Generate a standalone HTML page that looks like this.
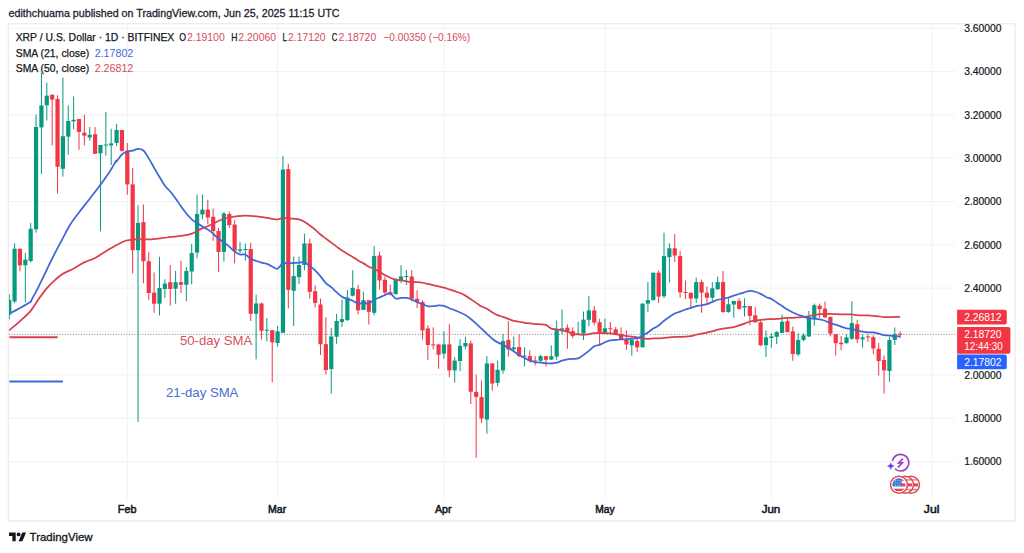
<!DOCTYPE html><html><head><meta charset="utf-8"><title>XRP / U.S. Dollar chart</title><style>
html,body{margin:0;padding:0;background:#fff;}
body{width:1024px;height:553px;overflow:hidden;position:relative;font-family:"Liberation Sans",Arial,sans-serif;}
svg{position:absolute;left:0;top:0;}
.t{font-family:"Liberation Sans",Arial,sans-serif;}
</style></head><body>
<svg width="1024" height="553" viewBox="0 0 1024 553">
<rect x="0" y="0" width="1024" height="553" fill="#ffffff"/>
<text class="t" x="8.6" y="16.8" font-size="11.3" fill="#1e222d" stroke="#1e222d" stroke-width="0.3" textLength="330.8" lengthAdjust="spacingAndGlyphs">edithchuama published on TradingView.com, Jun 25, 2025 11:15 UTC</text>
<rect x="8.3" y="23.8" width="1006.8" height="497.2" fill="none" stroke="#e6e6e8" stroke-width="1"/>
<defs><clipPath id="pane"><rect x="9" y="25" width="946" height="474"/></clipPath></defs>
<g stroke="#f1f2f4" stroke-width="1"><line x1="9" y1="28.1" x2="955" y2="28.1"/><line x1="9" y1="71.4" x2="955" y2="71.4"/><line x1="9" y1="114.8" x2="955" y2="114.8"/><line x1="9" y1="158.1" x2="955" y2="158.1"/><line x1="9" y1="201.5" x2="955" y2="201.5"/><line x1="9" y1="244.8" x2="955" y2="244.8"/><line x1="9" y1="288.1" x2="955" y2="288.1"/><line x1="9" y1="331.5" x2="955" y2="331.5"/><line x1="9" y1="374.8" x2="955" y2="374.8"/><line x1="9" y1="418.2" x2="955" y2="418.2"/><line x1="9" y1="461.5" x2="955" y2="461.5"/><line x1="127.3" y1="25" x2="127.3" y2="499"/><line x1="277.6" y1="25" x2="277.6" y2="499"/><line x1="444.0" y1="25" x2="444.0" y2="499"/><line x1="605.0" y1="25" x2="605.0" y2="499"/><line x1="771.3" y1="25" x2="771.3" y2="499"/><line x1="932.3" y1="25" x2="932.3" y2="499"/></g>
<line x1="9.4" y1="337.3" x2="57.6" y2="337.3" stroke="#d6404f" stroke-width="2"/>
<line x1="9.4" y1="381.4" x2="62.9" y2="381.4" stroke="#4166d6" stroke-width="2"/>
<text class="t" x="179.9" y="345.3" font-size="12.6" fill="#d9515f" textLength="72.4" lengthAdjust="spacingAndGlyphs">50-day SMA</text>
<text class="t" x="166.0" y="396.7" font-size="12.6" fill="#4a6cd4" textLength="72.4" lengthAdjust="spacingAndGlyphs">21-day SMA</text>
<line x1="9" y1="334.3" x2="955" y2="334.3" stroke="#80838c" stroke-width="1" stroke-dasharray="1,1.67"/>
<g clip-path="url(#pane)">
<rect x="8.73" y="294.2" width="1" height="25.1" fill="#089981"/><rect x="7.13" y="299.9" width="4.2" height="14.7" fill="#089981"/><rect x="14.09" y="243.3" width="1" height="59.9" fill="#089981"/><rect x="12.49" y="248.7" width="4.2" height="52.8" fill="#089981"/><rect x="19.46" y="248.7" width="1" height="22.6" fill="#f23645"/><rect x="17.86" y="248.7" width="4.2" height="16.6" fill="#f23645"/><rect x="24.83" y="252.8" width="1" height="49.6" fill="#089981"/><rect x="23.23" y="259.6" width="4.2" height="5.7" fill="#089981"/><rect x="30.19" y="222.9" width="1" height="39.6" fill="#089981"/><rect x="28.59" y="228.8" width="4.2" height="32.2" fill="#089981"/><rect x="35.56" y="114.7" width="1" height="118.0" fill="#089981"/><rect x="33.96" y="127.0" width="4.2" height="102.3" fill="#089981"/><rect x="40.93" y="72.7" width="1" height="101.3" fill="#089981"/><rect x="39.33" y="105.5" width="4.2" height="21.9" fill="#089981"/><rect x="46.30" y="82.5" width="1" height="38.0" fill="#089981"/><rect x="44.70" y="95.7" width="4.2" height="9.6" fill="#089981"/><rect x="51.66" y="94.2" width="1" height="51.2" fill="#f23645"/><rect x="50.06" y="94.8" width="4.2" height="4.8" fill="#f23645"/><rect x="57.03" y="95.2" width="1" height="98.4" fill="#f23645"/><rect x="55.43" y="99.0" width="4.2" height="67.8" fill="#f23645"/><rect x="62.40" y="77.6" width="1" height="99.0" fill="#089981"/><rect x="60.80" y="136.2" width="4.2" height="32.6" fill="#089981"/><rect x="67.76" y="105.3" width="1" height="49.4" fill="#089981"/><rect x="66.16" y="121.0" width="4.2" height="15.6" fill="#089981"/><rect x="73.13" y="96.5" width="1" height="32.8" fill="#089981"/><rect x="71.53" y="119.8" width="4.2" height="1.5" fill="#089981"/><rect x="78.50" y="119.0" width="1" height="30.8" fill="#f23645"/><rect x="76.90" y="119.0" width="4.2" height="12.9" fill="#f23645"/><rect x="83.86" y="114.7" width="1" height="30.7" fill="#f23645"/><rect x="82.26" y="132.7" width="4.2" height="2.9" fill="#f23645"/><rect x="89.23" y="127.0" width="1" height="13.7" fill="#089981"/><rect x="87.63" y="134.8" width="4.2" height="2.7" fill="#089981"/><rect x="94.60" y="127.0" width="1" height="26.8" fill="#f23645"/><rect x="93.00" y="134.2" width="4.2" height="19.6" fill="#f23645"/><rect x="99.97" y="145.0" width="1" height="86.3" fill="#089981"/><rect x="98.37" y="145.0" width="4.2" height="8.4" fill="#089981"/><rect x="105.33" y="111.8" width="1" height="43.9" fill="#089981"/><rect x="103.73" y="144.5" width="4.2" height="1.0" fill="#089981"/><rect x="110.70" y="128.8" width="1" height="36.2" fill="#089981"/><rect x="109.10" y="143.4" width="4.2" height="2.0" fill="#089981"/><rect x="116.07" y="124.0" width="1" height="22.0" fill="#089981"/><rect x="114.47" y="130.0" width="4.2" height="13.0" fill="#089981"/><rect x="121.43" y="130.0" width="1" height="21.8" fill="#f23645"/><rect x="119.83" y="130.0" width="4.2" height="20.8" fill="#f23645"/><rect x="126.80" y="143.0" width="1" height="51.8" fill="#f23645"/><rect x="125.20" y="150.8" width="4.2" height="33.6" fill="#f23645"/><rect x="132.17" y="167.8" width="1" height="105.6" fill="#f23645"/><rect x="130.57" y="184.4" width="4.2" height="65.8" fill="#f23645"/><rect x="137.53" y="205.3" width="1" height="216.7" fill="#089981"/><rect x="135.93" y="222.9" width="4.2" height="27.3" fill="#089981"/><rect x="142.90" y="204.5" width="1" height="78.7" fill="#f23645"/><rect x="141.30" y="222.1" width="4.2" height="39.1" fill="#f23645"/><rect x="148.27" y="251.8" width="1" height="48.0" fill="#f23645"/><rect x="146.67" y="261.2" width="4.2" height="31.8" fill="#f23645"/><rect x="153.63" y="272.5" width="1" height="40.4" fill="#f23645"/><rect x="152.03" y="292.6" width="4.2" height="11.1" fill="#f23645"/><rect x="159.00" y="256.8" width="1" height="58.6" fill="#089981"/><rect x="157.40" y="288.0" width="4.2" height="15.7" fill="#089981"/><rect x="164.37" y="279.3" width="1" height="18.6" fill="#089981"/><rect x="162.77" y="283.6" width="4.2" height="5.4" fill="#089981"/><rect x="169.74" y="265.2" width="1" height="40.5" fill="#f23645"/><rect x="168.14" y="282.2" width="4.2" height="6.8" fill="#f23645"/><rect x="175.10" y="271.0" width="1" height="32.7" fill="#089981"/><rect x="173.50" y="282.2" width="4.2" height="6.5" fill="#089981"/><rect x="180.47" y="260.7" width="1" height="32.3" fill="#f23645"/><rect x="178.87" y="282.2" width="4.2" height="2.6" fill="#f23645"/><rect x="185.84" y="267.2" width="1" height="34.0" fill="#089981"/><rect x="184.24" y="271.0" width="4.2" height="13.8" fill="#089981"/><rect x="191.20" y="243.8" width="1" height="40.4" fill="#089981"/><rect x="189.60" y="253.0" width="4.2" height="18.5" fill="#089981"/><rect x="196.57" y="194.5" width="1" height="63.7" fill="#089981"/><rect x="194.97" y="214.0" width="4.2" height="38.6" fill="#089981"/><rect x="201.94" y="194.5" width="1" height="24.8" fill="#089981"/><rect x="200.34" y="209.6" width="4.2" height="4.9" fill="#089981"/><rect x="207.31" y="199.8" width="1" height="24.4" fill="#f23645"/><rect x="205.71" y="209.6" width="4.2" height="7.8" fill="#f23645"/><rect x="212.67" y="208.6" width="1" height="32.2" fill="#f23645"/><rect x="211.07" y="216.8" width="4.2" height="14.2" fill="#f23645"/><rect x="218.04" y="228.1" width="1" height="44.1" fill="#f23645"/><rect x="216.44" y="231.0" width="4.2" height="20.9" fill="#f23645"/><rect x="223.41" y="212.1" width="1" height="49.4" fill="#089981"/><rect x="221.81" y="213.5" width="4.2" height="38.4" fill="#089981"/><rect x="228.77" y="211.5" width="1" height="16.6" fill="#f23645"/><rect x="227.17" y="214.0" width="4.2" height="11.2" fill="#f23645"/><rect x="234.14" y="220.3" width="1" height="43.1" fill="#f23645"/><rect x="232.54" y="224.6" width="4.2" height="26.1" fill="#f23645"/><rect x="239.51" y="241.8" width="1" height="11.2" fill="#089981"/><rect x="237.91" y="249.4" width="4.2" height="1.5" fill="#089981"/><rect x="244.87" y="243.6" width="1" height="16.9" fill="#089981"/><rect x="243.27" y="249.0" width="4.2" height="1.0" fill="#089981"/><rect x="250.24" y="242.8" width="1" height="78.2" fill="#f23645"/><rect x="248.64" y="249.0" width="4.2" height="64.8" fill="#f23645"/><rect x="255.61" y="294.7" width="1" height="64.6" fill="#089981"/><rect x="254.01" y="303.5" width="4.2" height="10.3" fill="#089981"/><rect x="260.98" y="302.5" width="1" height="37.1" fill="#f23645"/><rect x="259.38" y="303.5" width="4.2" height="27.3" fill="#f23645"/><rect x="266.34" y="318.0" width="1" height="23.4" fill="#089981"/><rect x="264.74" y="329.7" width="4.2" height="1.0" fill="#089981"/><rect x="271.71" y="330.2" width="1" height="52.1" fill="#f23645"/><rect x="270.11" y="330.2" width="4.2" height="12.1" fill="#f23645"/><rect x="277.08" y="326.0" width="1" height="20.6" fill="#089981"/><rect x="275.48" y="331.4" width="4.2" height="11.6" fill="#089981"/><rect x="282.44" y="155.9" width="1" height="177.1" fill="#089981"/><rect x="280.84" y="169.5" width="4.2" height="163.3" fill="#089981"/><rect x="287.81" y="163.7" width="1" height="144.7" fill="#f23645"/><rect x="286.21" y="169.1" width="4.2" height="120.7" fill="#f23645"/><rect x="293.18" y="256.6" width="1" height="69.3" fill="#089981"/><rect x="291.58" y="276.1" width="4.2" height="14.7" fill="#089981"/><rect x="298.54" y="256.6" width="1" height="27.4" fill="#089981"/><rect x="296.94" y="265.0" width="4.2" height="12.1" fill="#089981"/><rect x="303.91" y="233.6" width="1" height="36.7" fill="#089981"/><rect x="302.31" y="243.4" width="4.2" height="21.6" fill="#089981"/><rect x="309.28" y="238.9" width="1" height="59.7" fill="#f23645"/><rect x="307.68" y="243.4" width="4.2" height="48.4" fill="#f23645"/><rect x="314.64" y="285.3" width="1" height="22.1" fill="#f23645"/><rect x="313.04" y="291.2" width="4.2" height="11.7" fill="#f23645"/><rect x="320.01" y="298.6" width="1" height="56.4" fill="#f23645"/><rect x="318.41" y="304.5" width="4.2" height="39.7" fill="#f23645"/><rect x="325.38" y="317.1" width="1" height="57.4" fill="#f23645"/><rect x="323.78" y="344.2" width="4.2" height="25.8" fill="#f23645"/><rect x="330.75" y="327.9" width="1" height="65.6" fill="#089981"/><rect x="329.15" y="336.5" width="4.2" height="32.5" fill="#089981"/><rect x="336.11" y="313.8" width="1" height="30.0" fill="#089981"/><rect x="334.51" y="321.0" width="4.2" height="15.7" fill="#089981"/><rect x="341.48" y="299.6" width="1" height="27.3" fill="#089981"/><rect x="339.88" y="319.1" width="4.2" height="2.9" fill="#089981"/><rect x="346.85" y="289.8" width="1" height="31.2" fill="#089981"/><rect x="345.25" y="297.6" width="4.2" height="22.5" fill="#089981"/><rect x="352.21" y="270.3" width="1" height="26.3" fill="#089981"/><rect x="350.61" y="287.9" width="4.2" height="7.8" fill="#089981"/><rect x="357.58" y="284.9" width="1" height="29.3" fill="#f23645"/><rect x="355.98" y="289.2" width="4.2" height="21.1" fill="#f23645"/><rect x="362.95" y="291.8" width="1" height="18.2" fill="#089981"/><rect x="361.35" y="300.2" width="4.2" height="9.7" fill="#089981"/><rect x="368.31" y="300.2" width="1" height="24.3" fill="#f23645"/><rect x="366.71" y="300.2" width="4.2" height="11.6" fill="#f23645"/><rect x="373.68" y="246.1" width="1" height="69.2" fill="#089981"/><rect x="372.08" y="255.9" width="4.2" height="56.9" fill="#089981"/><rect x="379.05" y="251.8" width="1" height="37.8" fill="#f23645"/><rect x="377.45" y="255.5" width="4.2" height="24.9" fill="#f23645"/><rect x="384.42" y="276.5" width="1" height="18.5" fill="#f23645"/><rect x="382.82" y="279.8" width="4.2" height="12.7" fill="#f23645"/><rect x="389.78" y="284.7" width="1" height="10.7" fill="#f23645"/><rect x="388.18" y="292.1" width="4.2" height="2.4" fill="#f23645"/><rect x="395.15" y="278.8" width="1" height="15.7" fill="#089981"/><rect x="393.55" y="278.8" width="4.2" height="15.3" fill="#089981"/><rect x="400.52" y="265.2" width="1" height="17.9" fill="#089981"/><rect x="398.92" y="276.5" width="4.2" height="3.3" fill="#089981"/><rect x="405.88" y="270.0" width="1" height="15.1" fill="#089981"/><rect x="404.28" y="276.0" width="4.2" height="1.0" fill="#089981"/><rect x="411.25" y="270.0" width="1" height="31.3" fill="#f23645"/><rect x="409.65" y="276.5" width="4.2" height="22.2" fill="#f23645"/><rect x="416.62" y="290.2" width="1" height="17.9" fill="#f23645"/><rect x="415.02" y="298.8" width="4.2" height="3.1" fill="#f23645"/><rect x="421.99" y="300.3" width="1" height="39.2" fill="#f23645"/><rect x="420.38" y="301.9" width="4.2" height="28.5" fill="#f23645"/><rect x="427.35" y="325.1" width="1" height="34.9" fill="#f23645"/><rect x="425.75" y="328.4" width="4.2" height="16.6" fill="#f23645"/><rect x="432.72" y="327.4" width="1" height="21.9" fill="#f23645"/><rect x="431.12" y="344.4" width="4.2" height="1.0" fill="#f23645"/><rect x="438.09" y="344.4" width="1" height="24.4" fill="#f23645"/><rect x="436.49" y="344.4" width="4.2" height="10.4" fill="#f23645"/><rect x="443.45" y="331.3" width="1" height="27.4" fill="#089981"/><rect x="441.85" y="344.4" width="4.2" height="9.2" fill="#089981"/><rect x="448.82" y="324.2" width="1" height="52.8" fill="#f23645"/><rect x="447.22" y="344.4" width="4.2" height="26.0" fill="#f23645"/><rect x="454.19" y="357.1" width="1" height="25.4" fill="#089981"/><rect x="452.59" y="360.6" width="4.2" height="9.8" fill="#089981"/><rect x="459.55" y="339.1" width="1" height="32.1" fill="#089981"/><rect x="457.95" y="345.8" width="4.2" height="15.2" fill="#089981"/><rect x="464.92" y="336.6" width="1" height="12.7" fill="#089981"/><rect x="463.32" y="343.0" width="4.2" height="3.4" fill="#089981"/><rect x="470.29" y="340.5" width="1" height="63.5" fill="#f23645"/><rect x="468.69" y="343.4" width="4.2" height="48.3" fill="#f23645"/><rect x="475.66" y="374.3" width="1" height="83.5" fill="#f23645"/><rect x="474.06" y="391.9" width="4.2" height="5.0" fill="#f23645"/><rect x="481.02" y="380.5" width="1" height="42.5" fill="#f23645"/><rect x="479.42" y="397.1" width="4.2" height="21.4" fill="#f23645"/><rect x="486.39" y="356.1" width="1" height="77.6" fill="#089981"/><rect x="484.79" y="363.4" width="4.2" height="56.1" fill="#089981"/><rect x="491.76" y="363.4" width="1" height="27.3" fill="#f23645"/><rect x="490.16" y="363.4" width="4.2" height="20.1" fill="#f23645"/><rect x="497.12" y="360.6" width="1" height="25.8" fill="#089981"/><rect x="495.52" y="369.8" width="4.2" height="13.1" fill="#089981"/><rect x="502.49" y="334.1" width="1" height="39.6" fill="#089981"/><rect x="500.89" y="341.1" width="4.2" height="29.3" fill="#089981"/><rect x="507.86" y="321.2" width="1" height="35.5" fill="#f23645"/><rect x="506.26" y="339.9" width="4.2" height="9.4" fill="#f23645"/><rect x="513.22" y="336.6" width="1" height="14.3" fill="#089981"/><rect x="511.62" y="347.3" width="4.2" height="2.0" fill="#089981"/><rect x="518.59" y="334.6" width="1" height="22.5" fill="#f23645"/><rect x="516.99" y="347.0" width="4.2" height="9.1" fill="#f23645"/><rect x="523.96" y="347.3" width="1" height="19.2" fill="#089981"/><rect x="522.36" y="355.6" width="4.2" height="1.0" fill="#089981"/><rect x="529.32" y="350.3" width="1" height="12.3" fill="#f23645"/><rect x="527.72" y="356.1" width="4.2" height="4.9" fill="#f23645"/><rect x="534.69" y="356.1" width="1" height="9.2" fill="#f23645"/><rect x="533.09" y="360.5" width="4.2" height="1.0" fill="#f23645"/><rect x="540.06" y="354.8" width="1" height="7.2" fill="#089981"/><rect x="538.46" y="356.1" width="4.2" height="4.7" fill="#089981"/><rect x="545.43" y="356.1" width="1" height="10.4" fill="#f23645"/><rect x="543.83" y="356.2" width="4.2" height="3.6" fill="#f23645"/><rect x="550.79" y="345.3" width="1" height="14.7" fill="#089981"/><rect x="549.19" y="356.2" width="4.2" height="3.4" fill="#089981"/><rect x="556.16" y="320.6" width="1" height="39.2" fill="#089981"/><rect x="554.56" y="329.3" width="4.2" height="27.3" fill="#089981"/><rect x="561.53" y="309.4" width="1" height="24.8" fill="#089981"/><rect x="559.93" y="328.3" width="4.2" height="1.2" fill="#089981"/><rect x="566.89" y="324.4" width="1" height="24.4" fill="#f23645"/><rect x="565.29" y="327.7" width="4.2" height="3.9" fill="#f23645"/><rect x="572.26" y="327.3" width="1" height="10.8" fill="#f23645"/><rect x="570.66" y="331.2" width="4.2" height="4.9" fill="#f23645"/><rect x="577.63" y="321.5" width="1" height="13.3" fill="#089981"/><rect x="576.03" y="333.6" width="4.2" height="1.2" fill="#089981"/><rect x="583.00" y="311.5" width="1" height="28.5" fill="#089981"/><rect x="581.39" y="319.6" width="4.2" height="14.0" fill="#089981"/><rect x="588.36" y="296.2" width="1" height="30.2" fill="#089981"/><rect x="586.76" y="310.4" width="4.2" height="9.4" fill="#089981"/><rect x="593.73" y="305.9" width="1" height="19.5" fill="#f23645"/><rect x="592.13" y="310.4" width="4.2" height="12.1" fill="#f23645"/><rect x="599.10" y="318.8" width="1" height="26.1" fill="#f23645"/><rect x="597.50" y="322.3" width="4.2" height="10.5" fill="#f23645"/><rect x="604.46" y="318.6" width="1" height="15.0" fill="#089981"/><rect x="602.86" y="328.3" width="4.2" height="4.5" fill="#089981"/><rect x="609.83" y="321.9" width="1" height="12.3" fill="#f23645"/><rect x="608.23" y="328.3" width="4.2" height="1.0" fill="#f23645"/><rect x="615.20" y="326.9" width="1" height="8.1" fill="#f23645"/><rect x="613.60" y="329.3" width="4.2" height="5.5" fill="#f23645"/><rect x="620.56" y="327.3" width="1" height="11.8" fill="#f23645"/><rect x="618.96" y="334.2" width="4.2" height="4.9" fill="#f23645"/><rect x="625.93" y="330.3" width="1" height="19.5" fill="#f23645"/><rect x="624.33" y="339.1" width="4.2" height="5.4" fill="#f23645"/><rect x="631.30" y="339.1" width="1" height="16.6" fill="#089981"/><rect x="629.70" y="340.0" width="4.2" height="5.3" fill="#089981"/><rect x="636.66" y="339.0" width="1" height="12.8" fill="#f23645"/><rect x="635.06" y="341.0" width="4.2" height="6.3" fill="#f23645"/><rect x="642.03" y="303.5" width="1" height="44.0" fill="#089981"/><rect x="640.43" y="303.6" width="4.2" height="43.7" fill="#089981"/><rect x="647.40" y="282.1" width="1" height="29.7" fill="#089981"/><rect x="645.80" y="300.1" width="4.2" height="3.5" fill="#089981"/><rect x="652.77" y="272.5" width="1" height="28.0" fill="#089981"/><rect x="651.17" y="272.7" width="4.2" height="27.4" fill="#089981"/><rect x="658.13" y="270.4" width="1" height="32.6" fill="#f23645"/><rect x="656.53" y="272.7" width="4.2" height="23.9" fill="#f23645"/><rect x="663.50" y="232.7" width="1" height="65.4" fill="#089981"/><rect x="661.90" y="256.1" width="4.2" height="40.1" fill="#089981"/><rect x="668.87" y="243.4" width="1" height="39.1" fill="#089981"/><rect x="667.27" y="248.3" width="4.2" height="8.8" fill="#089981"/><rect x="674.23" y="234.1" width="1" height="27.9" fill="#f23645"/><rect x="672.63" y="248.3" width="4.2" height="7.2" fill="#f23645"/><rect x="679.60" y="251.2" width="1" height="46.4" fill="#f23645"/><rect x="678.00" y="256.1" width="4.2" height="36.2" fill="#f23645"/><rect x="684.97" y="280.5" width="1" height="18.6" fill="#f23645"/><rect x="683.37" y="292.0" width="4.2" height="1.0" fill="#f23645"/><rect x="690.33" y="292.5" width="1" height="16.4" fill="#f23645"/><rect x="688.73" y="292.7" width="4.2" height="5.8" fill="#f23645"/><rect x="695.70" y="277.6" width="1" height="25.4" fill="#089981"/><rect x="694.10" y="282.1" width="4.2" height="16.4" fill="#089981"/><rect x="701.07" y="279.6" width="1" height="33.2" fill="#f23645"/><rect x="699.47" y="282.1" width="4.2" height="10.6" fill="#f23645"/><rect x="706.44" y="286.4" width="1" height="18.6" fill="#f23645"/><rect x="704.84" y="292.7" width="4.2" height="5.0" fill="#f23645"/><rect x="711.80" y="282.1" width="1" height="19.9" fill="#089981"/><rect x="710.20" y="288.4" width="4.2" height="9.3" fill="#089981"/><rect x="717.17" y="276.6" width="1" height="12.9" fill="#089981"/><rect x="715.57" y="282.1" width="4.2" height="7.2" fill="#089981"/><rect x="722.54" y="271.0" width="1" height="41.8" fill="#f23645"/><rect x="720.94" y="282.1" width="4.2" height="29.9" fill="#f23645"/><rect x="727.90" y="297.5" width="1" height="15.3" fill="#089981"/><rect x="726.30" y="304.3" width="4.2" height="7.7" fill="#089981"/><rect x="733.27" y="300.9" width="1" height="16.6" fill="#089981"/><rect x="731.67" y="300.9" width="4.2" height="3.7" fill="#089981"/><rect x="738.64" y="298.2" width="1" height="11.8" fill="#f23645"/><rect x="737.04" y="300.9" width="4.2" height="7.9" fill="#f23645"/><rect x="744.00" y="298.3" width="1" height="18.2" fill="#089981"/><rect x="742.40" y="306.0" width="4.2" height="1.5" fill="#089981"/><rect x="749.37" y="306.0" width="1" height="19.1" fill="#f23645"/><rect x="747.77" y="306.1" width="4.2" height="9.8" fill="#f23645"/><rect x="754.74" y="307.1" width="1" height="15.4" fill="#f23645"/><rect x="753.14" y="315.3" width="4.2" height="7.0" fill="#f23645"/><rect x="760.11" y="320.4" width="1" height="25.8" fill="#f23645"/><rect x="758.51" y="322.3" width="4.2" height="22.9" fill="#f23645"/><rect x="765.47" y="330.5" width="1" height="26.4" fill="#089981"/><rect x="763.87" y="337.4" width="4.2" height="7.8" fill="#089981"/><rect x="770.84" y="333.5" width="1" height="14.2" fill="#089981"/><rect x="769.24" y="336.4" width="4.2" height="1.6" fill="#089981"/><rect x="776.21" y="331.0" width="1" height="13.2" fill="#089981"/><rect x="774.61" y="332.1" width="4.2" height="4.7" fill="#089981"/><rect x="781.57" y="314.5" width="1" height="18.5" fill="#089981"/><rect x="779.97" y="321.8" width="4.2" height="11.1" fill="#089981"/><rect x="786.94" y="318.4" width="1" height="14.1" fill="#f23645"/><rect x="785.34" y="321.2" width="4.2" height="10.9" fill="#f23645"/><rect x="792.31" y="326.6" width="1" height="34.2" fill="#f23645"/><rect x="790.71" y="331.5" width="4.2" height="22.5" fill="#f23645"/><rect x="797.67" y="333.5" width="1" height="22.4" fill="#089981"/><rect x="796.07" y="339.9" width="4.2" height="14.5" fill="#089981"/><rect x="803.04" y="333.5" width="1" height="7.8" fill="#089981"/><rect x="801.44" y="335.4" width="4.2" height="4.5" fill="#089981"/><rect x="808.41" y="311.0" width="1" height="26.0" fill="#089981"/><rect x="806.81" y="316.9" width="4.2" height="19.5" fill="#089981"/><rect x="813.78" y="303.6" width="1" height="22.1" fill="#089981"/><rect x="812.18" y="305.2" width="4.2" height="12.7" fill="#089981"/><rect x="819.14" y="303.6" width="1" height="14.3" fill="#f23645"/><rect x="817.54" y="305.7" width="4.2" height="3.4" fill="#f23645"/><rect x="824.51" y="301.6" width="1" height="16.4" fill="#f23645"/><rect x="822.91" y="308.7" width="4.2" height="8.6" fill="#f23645"/><rect x="829.88" y="316.9" width="1" height="19.5" fill="#f23645"/><rect x="828.28" y="316.9" width="4.2" height="16.6" fill="#f23645"/><rect x="835.24" y="334.1" width="1" height="21.4" fill="#f23645"/><rect x="833.64" y="334.1" width="4.2" height="9.1" fill="#f23645"/><rect x="840.61" y="336.0" width="1" height="14.1" fill="#f23645"/><rect x="839.01" y="342.7" width="4.2" height="1.5" fill="#f23645"/><rect x="845.98" y="334.5" width="1" height="9.0" fill="#089981"/><rect x="844.38" y="337.4" width="4.2" height="5.8" fill="#089981"/><rect x="851.34" y="301.2" width="1" height="38.6" fill="#089981"/><rect x="849.74" y="323.1" width="4.2" height="15.6" fill="#089981"/><rect x="856.71" y="319.8" width="1" height="23.4" fill="#f23645"/><rect x="855.11" y="324.3" width="4.2" height="15.0" fill="#f23645"/><rect x="862.08" y="334.5" width="1" height="13.2" fill="#089981"/><rect x="860.48" y="337.4" width="4.2" height="1.9" fill="#089981"/><rect x="867.45" y="334.5" width="1" height="7.4" fill="#f23645"/><rect x="865.85" y="336.4" width="4.2" height="1.0" fill="#f23645"/><rect x="872.81" y="335.3" width="1" height="18.9" fill="#f23645"/><rect x="871.21" y="337.2" width="4.2" height="11.3" fill="#f23645"/><rect x="878.18" y="343.0" width="1" height="32.6" fill="#f23645"/><rect x="876.58" y="348.8" width="4.2" height="12.2" fill="#f23645"/><rect x="883.55" y="355.5" width="1" height="38.2" fill="#f23645"/><rect x="881.95" y="360.0" width="4.2" height="10.4" fill="#f23645"/><rect x="888.91" y="337.1" width="1" height="44.6" fill="#089981"/><rect x="887.31" y="340.0" width="4.2" height="31.0" fill="#089981"/><rect x="894.28" y="327.5" width="1" height="17.5" fill="#089981"/><rect x="892.68" y="334.0" width="4.2" height="5.9" fill="#089981"/><rect x="899.65" y="331.6" width="1" height="6.4" fill="#f23645"/><rect x="898.05" y="333.7" width="4.2" height="1.0" fill="#f23645"/>
<path fill="none" stroke="#d6404f" stroke-width="1.75" stroke-linejoin="round" d="M9.30,330.30 C11.00,328.85 16.00,324.75 19.50,321.60 C23.00,318.45 27.22,315.00 30.30,311.40 C33.38,307.80 35.27,303.83 38.00,300.00 C40.73,296.17 44.12,291.50 46.70,288.40 C49.28,285.30 50.87,283.78 53.50,281.40 C56.13,279.02 59.18,276.22 62.50,274.10 C65.82,271.98 69.78,270.65 73.40,268.70 C77.02,266.75 80.58,264.20 84.20,262.40 C87.82,260.60 90.80,260.17 95.10,257.90 C99.40,255.63 105.85,251.25 110.00,248.80 C114.15,246.35 117.29,244.58 120.00,243.20 C122.71,241.82 123.65,241.15 126.25,240.50 C128.85,239.85 131.43,239.50 135.60,239.30 C139.77,239.10 146.03,239.60 151.25,239.30 C156.47,239.00 161.69,238.12 166.90,237.50 C172.11,236.88 178.33,236.25 182.50,235.60 C186.67,234.95 188.78,234.72 191.90,233.60 C195.03,232.48 198.13,230.33 201.25,228.90 C204.37,227.47 207.47,226.43 210.60,225.00 C213.72,223.57 216.87,221.55 220.00,220.30 C223.13,219.05 225.23,218.28 229.40,217.50 C233.57,216.72 239.80,215.70 245.00,215.60 C250.20,215.50 256.07,216.36 260.60,216.90 C265.13,217.44 269.38,218.42 272.21,218.85 C275.04,219.28 275.79,219.64 277.58,219.48 C279.37,219.32 281.15,218.08 282.94,217.89 C284.73,217.71 286.52,218.25 288.31,218.38 C290.10,218.52 291.89,218.54 293.68,218.71 C295.47,218.89 297.25,218.93 299.04,219.44 C300.83,219.95 302.62,220.76 304.41,221.77 C306.20,222.78 307.99,224.18 309.78,225.49 C311.57,226.80 313.36,228.13 315.14,229.64 C316.93,231.14 318.72,233.04 320.51,234.53 C322.30,236.02 324.09,237.25 325.88,238.59 C327.67,239.94 329.46,241.26 331.25,242.60 C333.03,243.93 334.82,245.27 336.61,246.60 C338.40,247.93 340.19,249.37 341.98,250.59 C343.77,251.80 345.56,252.84 347.35,253.90 C349.14,254.96 350.93,255.85 352.71,256.94 C354.50,258.04 356.29,259.38 358.08,260.45 C359.87,261.53 361.66,262.34 363.45,263.38 C365.24,264.43 367.03,265.79 368.81,266.72 C370.60,267.65 372.39,268.12 374.18,268.95 C375.97,269.78 377.76,270.69 379.55,271.69 C381.34,272.69 383.13,273.92 384.92,274.94 C386.70,275.96 388.49,277.02 390.28,277.81 C392.07,278.61 393.86,279.30 395.65,279.70 C397.44,280.10 399.23,279.96 401.02,280.23 C402.81,280.49 404.60,280.99 406.38,281.29 C408.17,281.59 409.96,281.88 411.75,282.04 C413.54,282.19 415.33,282.10 417.12,282.22 C418.91,282.34 420.70,282.47 422.49,282.75 C424.27,283.03 426.06,283.49 427.85,283.89 C429.64,284.29 431.43,284.70 433.22,285.13 C435.01,285.55 436.80,286.02 438.59,286.44 C440.38,286.87 442.16,287.19 443.95,287.69 C445.74,288.18 447.53,288.81 449.32,289.40 C451.11,289.98 452.90,290.58 454.69,291.19 C456.48,291.80 458.27,292.31 460.05,293.05 C461.84,293.79 463.63,294.59 465.42,295.63 C467.21,296.66 469.00,298.06 470.79,299.27 C472.58,300.47 474.37,301.64 476.16,302.86 C477.94,304.08 479.73,305.61 481.52,306.61 C483.31,307.61 485.10,307.90 486.89,308.84 C488.68,309.78 490.47,311.19 492.26,312.24 C494.05,313.29 495.83,314.35 497.62,315.13 C499.41,315.91 501.20,316.30 502.99,316.94 C504.78,317.57 506.57,318.28 508.36,318.94 C510.15,319.60 511.93,320.43 513.72,320.90 C515.51,321.37 517.30,321.43 519.09,321.75 C520.88,322.06 522.67,322.52 524.46,322.79 C526.25,323.07 528.04,323.19 529.82,323.39 C531.61,323.60 533.40,323.88 535.19,324.03 C536.98,324.18 538.77,324.17 540.56,324.31 C542.35,324.45 544.14,324.16 545.93,324.88 C547.71,325.59 549.50,327.86 551.29,328.61 C553.08,329.36 554.87,329.09 556.66,329.40 C558.45,329.70 560.24,330.05 562.03,330.44 C563.82,330.84 565.61,331.24 567.39,331.77 C569.18,332.31 570.97,333.18 572.76,333.63 C574.55,334.08 576.34,334.27 578.13,334.46 C579.92,334.66 581.71,334.86 583.50,334.80 C585.28,334.74 587.07,334.39 588.86,334.12 C590.65,333.85 592.44,333.34 594.23,333.17 C596.02,333.00 597.81,333.09 599.60,333.10 C601.38,333.11 603.17,333.19 604.96,333.25 C606.75,333.30 608.54,333.29 610.33,333.45 C612.12,333.61 613.91,333.90 615.70,334.19 C617.49,334.49 619.27,334.93 621.06,335.22 C622.85,335.50 624.64,335.65 626.43,335.90 C628.22,336.15 630.01,336.45 631.80,336.70 C633.59,336.95 635.38,337.13 637.16,337.41 C638.95,337.68 640.74,338.14 642.53,338.36 C644.32,338.59 646.11,338.76 647.90,338.75 C649.69,338.75 651.48,338.42 653.27,338.36 C655.05,338.30 656.84,338.47 658.63,338.40 C660.42,338.33 662.21,338.12 664.00,337.95 C665.79,337.78 667.58,337.55 669.37,337.38 C671.16,337.22 672.94,337.06 674.73,336.97 C676.52,336.88 678.31,336.90 680.10,336.84 C681.89,336.79 683.68,336.80 685.47,336.67 C687.26,336.53 689.05,336.34 690.83,336.03 C692.62,335.71 694.41,335.16 696.20,334.77 C697.99,334.38 699.78,334.08 701.57,333.72 C703.36,333.35 705.15,332.95 706.94,332.57 C708.72,332.20 710.51,331.94 712.30,331.45 C714.09,330.97 715.88,330.14 717.67,329.69 C719.46,329.23 721.25,329.02 723.04,328.72 C724.83,328.42 726.62,328.16 728.40,327.89 C730.19,327.61 731.98,327.46 733.77,327.04 C735.56,326.63 737.35,325.97 739.14,325.39 C740.93,324.81 742.72,324.21 744.50,323.57 C746.29,322.92 748.08,322.00 749.87,321.52 C751.66,321.04 753.45,320.96 755.24,320.69 C757.03,320.43 758.82,320.16 760.61,319.93 C762.39,319.69 764.18,319.40 765.97,319.28 C767.76,319.16 769.55,319.26 771.34,319.19 C773.13,319.11 774.92,318.98 776.71,318.84 C778.50,318.70 780.28,318.50 782.07,318.33 C783.86,318.17 785.65,317.94 787.44,317.85 C789.23,317.77 791.02,317.90 792.81,317.82 C794.60,317.74 796.39,317.56 798.17,317.40 C799.96,317.24 801.75,317.09 803.54,316.88 C805.33,316.66 807.12,316.40 808.91,316.09 C810.70,315.78 812.49,315.34 814.28,315.00 C816.06,314.66 817.85,314.25 819.64,314.06 C821.43,313.86 823.22,313.84 825.01,313.82 C826.80,313.80 828.59,313.87 830.38,313.92 C832.17,313.98 833.95,314.09 835.74,314.15 C837.53,314.22 839.32,314.28 841.11,314.32 C842.90,314.36 844.69,314.37 846.48,314.39 C848.27,314.42 850.06,314.35 851.84,314.46 C853.63,314.57 855.42,314.89 857.21,315.04 C859.00,315.19 860.79,315.27 862.58,315.34 C864.37,315.40 866.16,315.35 867.95,315.43 C869.73,315.51 871.52,315.66 873.31,315.83 C875.10,316.01 876.89,316.24 878.68,316.47 C880.47,316.69 882.26,317.06 884.05,317.18 C885.84,317.30 887.62,317.23 889.41,317.20 C891.20,317.17 892.99,317.04 894.78,316.99 C896.57,316.93 899.25,316.90 900.15,316.88"/>
<path fill="none" stroke="#4166d6" stroke-width="1.75" stroke-linejoin="round" d="M9.60,313.60 C11.33,312.67 16.55,309.93 20.00,308.00 C23.45,306.07 28.38,303.33 30.30,302.00 C32.22,300.67 30.26,302.27 31.50,300.00 C32.74,297.73 35.22,293.40 37.75,288.40 C40.28,283.40 44.98,273.58 46.70,270.00 C48.43,266.42 46.67,269.83 48.10,266.90 C49.53,263.97 52.90,257.07 55.30,252.40 C57.70,247.73 60.08,243.42 62.50,238.90 C64.92,234.38 67.08,229.67 69.80,225.30 C72.52,220.93 75.63,216.92 78.80,212.70 C81.97,208.48 85.32,204.48 88.80,200.00 C92.28,195.52 96.22,190.50 99.70,185.80 C103.18,181.10 106.93,175.93 109.65,171.80 C112.37,167.67 114.85,162.71 116.00,161.00 C117.15,159.29 115.58,162.65 116.57,161.56 C117.55,160.47 120.14,156.16 121.93,154.46 C123.72,152.77 125.51,152.03 127.30,151.40 C129.09,150.77 130.88,151.09 132.67,150.68 C134.46,150.27 136.25,148.97 138.03,148.93 C139.82,148.90 141.61,148.90 143.40,150.48 C145.19,152.05 146.98,155.49 148.77,158.38 C150.56,161.27 152.35,164.72 154.13,167.82 C155.92,170.92 157.71,173.99 159.50,176.98 C161.29,179.97 163.08,183.31 164.87,185.74 C166.66,188.17 168.45,189.43 170.24,191.56 C172.02,193.69 173.81,196.05 175.60,198.51 C177.39,200.97 179.18,203.81 180.97,206.31 C182.76,208.81 184.55,211.35 186.34,213.51 C188.13,215.67 189.92,217.70 191.70,219.28 C193.49,220.86 195.28,221.80 197.07,223.01 C198.86,224.23 200.65,225.48 202.44,226.57 C204.23,227.67 206.02,228.42 207.81,229.60 C209.59,230.79 211.38,232.17 213.17,233.70 C214.96,235.23 216.75,237.41 218.54,238.81 C220.33,240.22 222.12,240.84 223.91,242.15 C225.69,243.46 227.48,245.14 229.27,246.69 C231.06,248.23 232.85,250.13 234.64,251.44 C236.43,252.75 238.22,254.03 240.01,254.54 C241.80,255.04 243.59,253.77 245.37,254.48 C247.16,255.19 248.95,257.75 250.74,258.81 C252.53,259.87 254.32,260.19 256.11,260.82 C257.90,261.46 259.69,262.12 261.48,262.62 C263.26,263.13 265.05,263.22 266.84,263.86 C268.63,264.50 270.42,265.64 272.21,266.45 C274.00,267.26 275.79,269.29 277.58,268.72 C279.37,268.15 281.15,263.92 282.94,263.03 C284.73,262.15 286.52,263.40 288.31,263.40 C290.10,263.39 291.89,263.10 293.68,262.98 C295.47,262.86 297.25,262.82 299.04,262.70 C300.83,262.57 302.62,261.70 304.41,262.24 C306.20,262.78 307.99,264.58 309.78,265.94 C311.57,267.30 313.36,268.64 315.14,270.39 C316.93,272.13 318.72,274.31 320.51,276.42 C322.30,278.53 324.09,281.27 325.88,283.04 C327.67,284.82 329.46,285.55 331.25,287.07 C333.03,288.60 334.82,290.59 336.61,292.19 C338.40,293.79 340.19,295.54 341.98,296.66 C343.77,297.78 345.56,298.22 347.35,298.90 C349.14,299.57 350.93,299.94 352.71,300.73 C354.50,301.52 356.29,303.27 358.08,303.65 C359.87,304.03 361.66,303.04 363.45,303.00 C365.24,302.96 367.03,303.92 368.81,303.40 C370.60,302.87 372.39,300.81 374.18,299.83 C375.97,298.84 377.76,298.27 379.55,297.48 C381.34,296.69 383.13,295.80 384.92,295.11 C386.70,294.42 388.49,292.78 390.28,293.35 C392.07,293.93 393.86,297.80 395.65,298.56 C397.44,299.32 399.23,298.03 401.02,297.92 C402.81,297.82 404.60,297.65 406.38,297.92 C408.17,298.19 409.96,298.79 411.75,299.53 C413.54,300.26 415.33,301.54 417.12,302.31 C418.91,303.08 420.70,303.51 422.49,304.15 C424.27,304.79 426.06,305.81 427.85,306.15 C429.64,306.50 431.43,306.32 433.22,306.21 C435.01,306.10 436.80,305.55 438.59,305.49 C440.38,305.43 442.16,305.41 443.95,305.86 C445.74,306.32 447.53,307.50 449.32,308.22 C451.11,308.94 452.90,309.48 454.69,310.19 C456.48,310.90 458.27,311.67 460.05,312.49 C461.84,313.31 463.63,314.03 465.42,315.11 C467.21,316.20 469.00,317.57 470.79,318.99 C472.58,320.40 474.37,321.98 476.16,323.59 C477.94,325.21 479.73,326.97 481.52,328.67 C483.31,330.37 485.10,332.12 486.89,333.79 C488.68,335.46 490.47,337.27 492.26,338.70 C494.05,340.13 495.83,341.40 497.62,342.38 C499.41,343.37 501.20,343.67 502.99,344.60 C504.78,345.53 506.57,346.84 508.36,347.96 C510.15,349.08 511.93,350.13 513.72,351.33 C515.51,352.53 517.30,354.06 519.09,355.15 C520.88,356.23 522.67,356.93 524.46,357.85 C526.25,358.77 528.04,359.95 529.82,360.67 C531.61,361.38 533.40,361.81 535.19,362.15 C536.98,362.48 538.77,362.47 540.56,362.68 C542.35,362.88 544.14,363.24 545.93,363.36 C547.71,363.49 549.50,363.54 551.29,363.43 C553.08,363.32 554.87,363.16 556.66,362.71 C558.45,362.26 560.24,361.27 562.03,360.70 C563.82,360.14 565.61,359.63 567.39,359.32 C569.18,359.02 570.97,359.01 572.76,358.86 C574.55,358.71 576.34,359.06 578.13,358.41 C579.92,357.77 581.71,356.24 583.50,354.98 C585.28,353.72 587.07,352.31 588.86,350.86 C590.65,349.41 592.44,347.30 594.23,346.29 C596.02,345.29 597.81,345.51 599.60,344.83 C601.38,344.15 603.17,342.96 604.96,342.20 C606.75,341.45 608.54,340.65 610.33,340.28 C612.12,339.90 613.91,340.11 615.70,339.98 C617.49,339.85 619.27,339.59 621.06,339.49 C622.85,339.39 624.64,339.51 626.43,339.36 C628.22,339.21 630.01,338.78 631.80,338.59 C633.59,338.40 635.38,338.72 637.16,338.20 C638.95,337.67 640.74,336.40 642.53,335.46 C644.32,334.52 646.11,333.69 647.90,332.54 C649.69,331.39 651.48,329.73 653.27,328.57 C655.05,327.40 656.84,326.85 658.63,325.56 C660.42,324.26 662.21,322.23 664.00,320.79 C665.79,319.35 667.58,318.15 669.37,316.93 C671.16,315.71 672.94,314.36 674.73,313.47 C676.52,312.58 678.31,312.25 680.10,311.60 C681.89,310.94 683.68,310.16 685.47,309.54 C687.26,308.92 689.05,308.45 690.83,307.87 C692.62,307.30 694.41,306.52 696.20,306.09 C697.99,305.65 699.78,305.58 701.57,305.24 C703.36,304.91 705.15,304.61 706.94,304.06 C708.72,303.51 710.51,302.67 712.30,301.95 C714.09,301.23 715.88,300.25 717.67,299.75 C719.46,299.24 721.25,299.30 723.04,298.92 C724.83,298.54 726.62,298.02 728.40,297.47 C730.19,296.93 731.98,296.24 733.77,295.65 C735.56,295.07 737.35,294.51 739.14,293.95 C740.93,293.40 742.72,292.85 744.50,292.33 C746.29,291.81 748.08,290.94 749.87,290.84 C751.66,290.74 753.45,291.22 755.24,291.73 C757.03,292.23 758.82,293.00 760.61,293.88 C762.39,294.75 764.18,296.13 765.97,296.96 C767.76,297.79 769.55,297.93 771.34,298.85 C773.13,299.77 774.92,301.28 776.71,302.47 C778.50,303.66 780.28,304.78 782.07,305.97 C783.86,307.16 785.65,308.52 787.44,309.62 C789.23,310.72 791.02,311.70 792.81,312.56 C794.60,313.42 796.39,314.13 798.17,314.79 C799.96,315.46 801.75,315.98 803.54,316.55 C805.33,317.12 807.12,317.83 808.91,318.20 C810.70,318.58 812.49,318.61 814.28,318.80 C816.06,318.99 817.85,319.02 819.64,319.34 C821.43,319.66 823.22,320.08 825.01,320.72 C826.80,321.36 828.59,322.51 830.38,323.17 C832.17,323.82 833.95,324.09 835.74,324.65 C837.53,325.22 839.32,325.95 841.11,326.55 C842.90,327.16 844.69,327.89 846.48,328.29 C848.27,328.69 850.06,328.59 851.84,328.97 C853.63,329.35 855.42,330.12 857.21,330.56 C859.00,330.99 860.79,331.29 862.58,331.58 C864.37,331.87 866.16,332.15 867.95,332.30 C869.73,332.45 871.52,332.24 873.31,332.46 C875.10,332.67 876.89,333.12 878.68,333.58 C880.47,334.04 882.26,334.87 884.05,335.20 C885.84,335.53 887.62,335.42 889.41,335.58 C891.20,335.74 892.99,336.04 894.78,336.16 C896.57,336.27 899.25,336.25 900.15,336.27"/>
</g>
<text class="t" x="964.2" y="31.8" font-size="10.4" fill="#131722" textLength="37.4" lengthAdjust="spacingAndGlyphs" stroke="#131722" stroke-width="0.2">3.60000</text>
<text class="t" x="964.2" y="75.1" font-size="10.4" fill="#131722" textLength="37.4" lengthAdjust="spacingAndGlyphs" stroke="#131722" stroke-width="0.2">3.40000</text>
<text class="t" x="964.2" y="118.5" font-size="10.4" fill="#131722" textLength="37.4" lengthAdjust="spacingAndGlyphs" stroke="#131722" stroke-width="0.2">3.20000</text>
<text class="t" x="964.2" y="161.8" font-size="10.4" fill="#131722" textLength="37.4" lengthAdjust="spacingAndGlyphs" stroke="#131722" stroke-width="0.2">3.00000</text>
<text class="t" x="964.2" y="205.2" font-size="10.4" fill="#131722" textLength="37.4" lengthAdjust="spacingAndGlyphs" stroke="#131722" stroke-width="0.2">2.80000</text>
<text class="t" x="964.2" y="248.5" font-size="10.4" fill="#131722" textLength="37.4" lengthAdjust="spacingAndGlyphs" stroke="#131722" stroke-width="0.2">2.60000</text>
<text class="t" x="964.2" y="291.8" font-size="10.4" fill="#131722" textLength="37.4" lengthAdjust="spacingAndGlyphs" stroke="#131722" stroke-width="0.2">2.40000</text>
<text class="t" x="964.2" y="378.5" font-size="10.4" fill="#131722" textLength="37.4" lengthAdjust="spacingAndGlyphs" stroke="#131722" stroke-width="0.2">2.00000</text>
<text class="t" x="964.2" y="421.9" font-size="10.4" fill="#131722" textLength="37.4" lengthAdjust="spacingAndGlyphs" stroke="#131722" stroke-width="0.2">1.80000</text>
<text class="t" x="964.2" y="465.2" font-size="10.4" fill="#131722" textLength="37.4" lengthAdjust="spacingAndGlyphs" stroke="#131722" stroke-width="0.2">1.60000</text>
<path d="M957.1,309.8 H1004.8 a2,2 0 0 1 2,2 V322.4 a2,2 0 0 1 -2,2 H957.1 Z" fill="#f23645"/>
<text class="t" x="964.2" y="320.9" font-size="10.4" fill="#ffffff" textLength="37.4" lengthAdjust="spacingAndGlyphs">2.26812</text>
<path d="M957.1,326.9 H1008.4 a2,2 0 0 1 2,2 V351.7 a2,2 0 0 1 -2,2 H957.1 Z" fill="#f23645"/>
<text class="t" x="964.2" y="337.9" font-size="10.4" fill="#ffffff" textLength="37.4" lengthAdjust="spacingAndGlyphs">2.18720</text>
<text class="t" x="964.2" y="349.7" font-size="10.4" fill="#ffffff" textLength="38.6" lengthAdjust="spacingAndGlyphs">12:44:30</text>
<path d="M957.1,354.6 H1004.8 a2,2 0 0 1 2,2 V367.2 a2,2 0 0 1 -2,2 H957.1 Z" fill="#2962ff"/>
<text class="t" x="964.2" y="365.6" font-size="10.4" fill="#ffffff" textLength="37.4" lengthAdjust="spacingAndGlyphs">2.17802</text>
<text class="t" x="117.8" y="512.6" font-size="11.2" fill="#131722" textLength="18.6" lengthAdjust="spacingAndGlyphs" stroke="#131722" stroke-width="0.55">Feb</text>
<text class="t" x="268.0" y="512.6" font-size="11.2" fill="#131722" textLength="18.2" lengthAdjust="spacingAndGlyphs" stroke="#131722" stroke-width="0.55">Mar</text>
<text class="t" x="435.0" y="512.6" font-size="11.2" fill="#131722" textLength="16.6" lengthAdjust="spacingAndGlyphs" stroke="#131722" stroke-width="0.55">Apr</text>
<text class="t" x="595.2" y="512.6" font-size="11.2" fill="#131722" textLength="19.4" lengthAdjust="spacingAndGlyphs" stroke="#131722" stroke-width="0.55">May</text>
<text class="t" x="761.7" y="512.6" font-size="11.2" fill="#131722" textLength="18.6" lengthAdjust="spacingAndGlyphs" stroke="#131722" stroke-width="0.55">Jun</text>
<text class="t" x="923.8" y="512.6" font-size="11.2" fill="#131722" textLength="15.6" lengthAdjust="spacingAndGlyphs" stroke="#131722" stroke-width="0.55">Jul</text>
<text class="t" x="15.7" y="40.9" font-size="10.8" fill="#131722" textLength="158.6" lengthAdjust="spacingAndGlyphs" stroke="#131722" stroke-width="0.25">XRP / U.S. Dollar · 1D · BITFINEX</text>
<text class="t" x="179.2" y="40.9" font-size="10.8" fill="#131722" textLength="6.8" lengthAdjust="spacingAndGlyphs" stroke="#131722" stroke-width="0.25">O</text>
<text class="t" x="187.1" y="40.9" font-size="10.8" fill="#d44b5b" textLength="37.6" lengthAdjust="spacingAndGlyphs">2.19100</text>
<text class="t" x="231.2" y="40.9" font-size="10.8" fill="#131722" textLength="6.2" lengthAdjust="spacingAndGlyphs" stroke="#131722" stroke-width="0.25">H</text>
<text class="t" x="238.3" y="40.9" font-size="10.8" fill="#d44b5b" textLength="37.9" lengthAdjust="spacingAndGlyphs">2.20060</text>
<text class="t" x="282.4" y="40.9" font-size="10.8" fill="#131722" textLength="4.6" lengthAdjust="spacingAndGlyphs" stroke="#131722" stroke-width="0.25">L</text>
<text class="t" x="288.0" y="40.9" font-size="10.8" fill="#d44b5b" textLength="37.4" lengthAdjust="spacingAndGlyphs">2.17120</text>
<text class="t" x="331.8" y="40.9" font-size="10.8" fill="#131722" textLength="5.6" lengthAdjust="spacingAndGlyphs" stroke="#131722" stroke-width="0.25">C</text>
<text class="t" x="338.6" y="40.9" font-size="10.8" fill="#d44b5b" textLength="37.6" lengthAdjust="spacingAndGlyphs">2.18720</text>
<text class="t" x="383.4" y="40.9" font-size="10.8" fill="#d44b5b" textLength="86.8" lengthAdjust="spacingAndGlyphs">−0.00350 (−0.16%)</text>
<text class="t" x="15.7" y="56.6" font-size="10.8" fill="#131722" textLength="73.5" lengthAdjust="spacingAndGlyphs" stroke="#131722" stroke-width="0.25">SMA (21, close)</text>
<text class="t" x="94.7" y="56.6" font-size="10.8" fill="#3f68d6" textLength="38.6" lengthAdjust="spacingAndGlyphs">2.17802</text>
<text class="t" x="15.7" y="71.6" font-size="10.8" fill="#131722" textLength="73.5" lengthAdjust="spacingAndGlyphs" stroke="#131722" stroke-width="0.25">SMA (50, close)</text>
<text class="t" x="94.7" y="71.6" font-size="10.8" fill="#d44b5b" textLength="38.6" lengthAdjust="spacingAndGlyphs">2.26812</text>
<path d="M892.41,460.83 A8.3,8.3 0 1 1 894.84,468.77" fill="none" stroke="#9b3fc4" stroke-width="1.6"/>
<polyline points="903.0,458.7 898.7,462.9 902.3,462.9 898.0,467.4" fill="none" stroke="#a03cc4" stroke-width="1.7" stroke-linejoin="miter" stroke-miterlimit="3"/>
<path d="M890.8,462.3 Q891.5,465.4 894.8,466.1 Q891.5,466.8 890.8,470.0 Q890.1,466.8 886.7,466.1 Q890.1,465.4 890.8,462.3 Z" fill="#6446f0"/>
<circle cx="911.0" cy="484.8" r="8.5" fill="#fff" stroke="#dd4652" stroke-width="1.5"/>
<rect x="910.0" y="483.4" width="8" height="3" fill="#dd4652"/>
<rect x="912.0" y="479.2" width="5" height="1.4" fill="#dd4652" opacity="0.7"/><rect x="912.0" y="488.8" width="5" height="1.6" fill="#dd4652" opacity="0.7"/>
<circle cx="905.0" cy="484.8" r="8.5" fill="#fff" stroke="#dd4652" stroke-width="1.5"/>
<rect x="904.0" y="483.4" width="8" height="3" fill="#dd4652"/>
<rect x="906.0" y="479.2" width="5" height="1.4" fill="#dd4652" opacity="0.7"/><rect x="906.0" y="488.8" width="5" height="1.6" fill="#dd4652" opacity="0.7"/>
<circle cx="899" cy="484.8" r="8.5" fill="#fff" stroke="#dd4652" stroke-width="1.5"/>
<clipPath id="fc"><circle cx="899" cy="484.8" r="6.6"/></clipPath>
<g clip-path="url(#fc)">
<rect x="901" y="479.2" width="8" height="1.5" fill="#dd4652"/>
<rect x="901" y="483.4" width="8" height="3.0" fill="#dd4652"/>
<rect x="890" y="488.7" width="18" height="2.4" fill="#dd4652"/>
<rect x="890" y="477" width="11.7" height="9.5" fill="#3b7ad9"/>
<rect x="895.0" y="480.0" width="0.9" height="0.9" fill="#cfe0ff"/>
<rect x="897.3" y="480.0" width="0.9" height="0.9" fill="#cfe0ff"/>
<rect x="899.6" y="480.0" width="0.9" height="0.9" fill="#cfe0ff"/>
<rect x="895.0" y="482.5" width="0.9" height="0.9" fill="#cfe0ff"/>
<rect x="897.3" y="482.5" width="0.9" height="0.9" fill="#cfe0ff"/>
<rect x="899.6" y="482.5" width="0.9" height="0.9" fill="#cfe0ff"/>
<rect x="895.0" y="485.0" width="0.9" height="0.9" fill="#cfe0ff"/>
<rect x="897.3" y="485.0" width="0.9" height="0.9" fill="#cfe0ff"/>
<rect x="899.6" y="485.0" width="0.9" height="0.9" fill="#cfe0ff"/>
</g>
<g transform="translate(9,530.6) scale(0.48)" fill="#131722"><path d="M14 22H7V11H0V4h14v18zM28 22h-8l7.5-18h8L28 22z"/><circle cx="20" cy="8" r="4"/></g>
<text class="t" x="29.6" y="540.8" font-size="10.8" fill="#131722" textLength="63.0" lengthAdjust="spacingAndGlyphs" stroke="#131722" stroke-width="0.3">TradingView</text>
</svg></body></html>
